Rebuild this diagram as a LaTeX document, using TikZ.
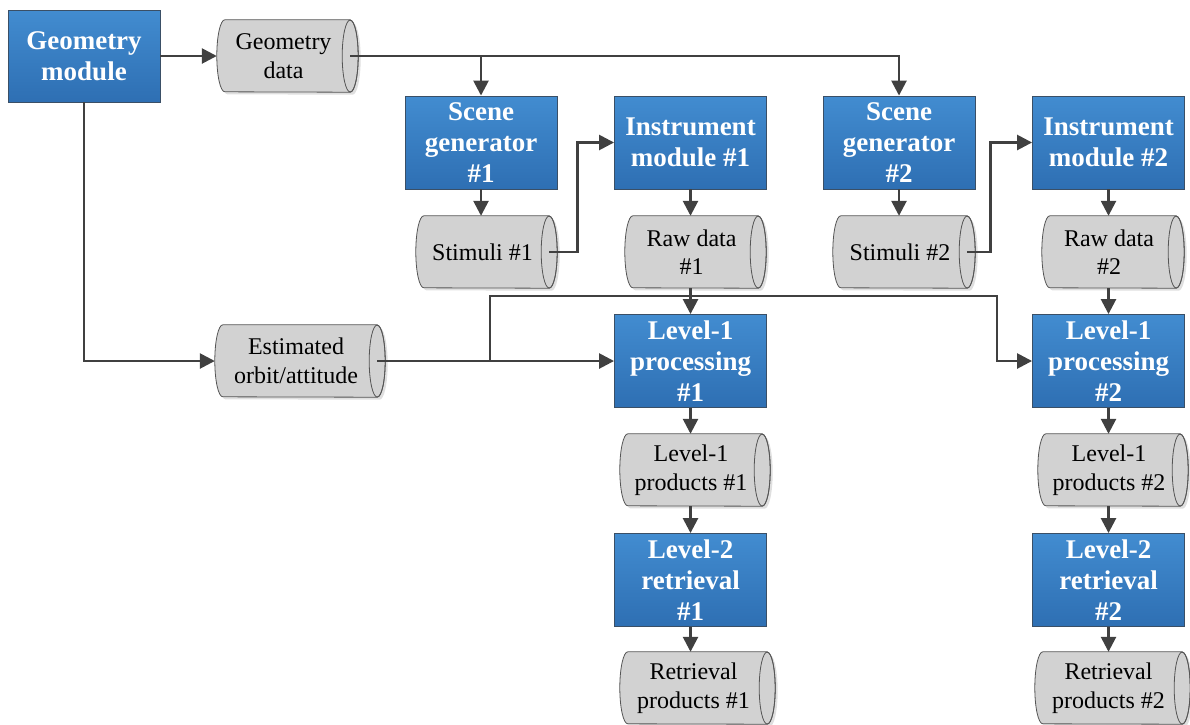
\documentclass[tikz,border=0pt]{standalone}
\usepackage{fontspec}
\setmainfont{Liberation Serif}
\usetikzlibrary{arrows.meta,calc,shadows}

\definecolor{boxtop}{HTML}{428CD0}
\definecolor{boxbottom}{HTML}{2E6FB3}
\definecolor{boxedge}{HTML}{3A4F66}
\definecolor{drumfill}{HTML}{D2D2D2}
\definecolor{drumline}{HTML}{555555}
\definecolor{linkcol}{HTML}{404040}

\pgfdeclarelayer{background}
\pgfsetlayers{background,main}

\tikzset{
  module/.style={rectangle, draw=boxedge, line width=0.9pt,
    top color=boxtop, bottom color=boxbottom,
    minimum width=152pt, minimum height=93pt, inner sep=0pt,
    text=white, align=center,
    font=\fontsize{27}{31}\selectfont\bfseries},
  drumtext/.style={rectangle, draw=none, minimum height=72pt, inner sep=0pt,
    align=center, font=\fontsize{24}{28.5}\selectfont},
  drumbody/.style={fill=drumfill, draw=drumline, line width=0.8pt,
    drop shadow={shadow xshift=2.5pt, shadow yshift=-2.5pt, opacity=0.25}},
  drumedge/.style={draw=drumline, line width=0.8pt},
  link/.style={draw=linkcol, line width=2.6pt,
    -{Triangle[length=15pt,width=15pt]}}
}

% data store drawn as a horizontal cylinder: name, x, y, width, text
% (the node spans from the left bulge to the centre of the end ellipse)
\newcommand\drum[5]{%
  \node[drumtext, minimum width=#4-8pt] (#1) at ($(#2,#3)+(-4pt,0)$) {#5};
  \coordinate (#1-out) at (#1.east);
  \begin{pgfonlayer}{background}
    \path[drumbody] (#1.north east) -- ($(#1.north west)+(8pt,0)$)
      arc[start angle=90, end angle=270, x radius=8pt, y radius=36pt]
      -- (#1.south east)
      arc[start angle=-90, end angle=90, x radius=8pt, y radius=36pt] -- cycle;
    \draw[drumedge] (#1.east) ellipse[x radius=8pt, y radius=36pt];
  \end{pgfonlayer}
}

\begin{document}
\begin{tikzpicture}[x=1pt, y=-1pt]
\useasboundingbox (0,0) rectangle (1190,724);

% processing modules
\node[module, minimum height=92pt] (geo) at (84,56) {Geometry\\module};
\node[module] (sg1)  at (481,142.5)   {Scene\\generator\\\#1};
\node[module] (im1)  at (690.5,142.5) {Instrument\\module \#1};
\node[module] (sg2)  at (899,142.5)   {Scene\\generator\\\#2};
\node[module] (im2)  at (1108.5,142.5){Instrument\\module \#2};
\node[module] (l1p1) at (690.5,361)   {Level-1\\processing\\\#1};
\node[module] (l1p2) at (1108.5,361)  {Level-1\\processing\\\#2};
\node[module] (l2r1) at (690.5,580)   {Level-2\\retrieval\\\#1};
\node[module] (l2r2) at (1108.5,580)  {Level-2\\retrieval\\\#2};

% data stores
\drum{gd}{287.5}{56}{141pt}{Geometry\\data}
\drum{st1}{486.5}{252}{141pt}{Stimuli \#1}
\drum{rd1}{695.5}{252}{141pt}{Raw data\\\#1}
\drum{st2}{904}{252}{142pt}{Stimuli \#2}
\drum{rd2}{1113}{252}{142pt}{Raw data\\\#2}
\drum{eo}{300}{361}{170pt}{Estimated\\orbit/attitude}
\drum{lp1}{695}{470}{150pt}{Level-1\\products \#1}
\drum{lp2}{1113}{470}{150pt}{Level-1\\products \#2}
\drum{rp1}{697.5}{688}{155pt}{Retrieval\\products \#1}
\drum{rp2}{1112.5}{688}{155pt}{Retrieval\\products \#2}

% junctions of the orbit/attitude feed
\coordinate (split) at (490,361);
\coordinate (bus) at (997,296);

% geometry chain
\draw[link] (geo.east) -- (gd.west);
\draw[link] (gd-out) -| (sg2.north);
\draw[link] (sg1.north |- gd-out) -- (sg1.north);
\draw[link] (geo.south) |- (eo.west);

% branch 1
\draw[link] (sg1.south) -- (sg1.south |- st1.north);
\draw[link] (st1-out) -- ++(28pt,0) |- (im1.west);
\draw[link] (im1.south) -- (im1.south |- rd1.north);
\draw[link] (l1p1.north |- rd1.south) -- (l1p1.north);
\draw[link] (eo-out) -- (l1p1.west);
\draw[link] (split) |- (bus) |- (l1p2.west);
\draw[link] (l1p1.south) -- (l1p1.south |- lp1.north);
\draw[link] (l2r1.north |- lp1.south) -- (l2r1.north);
\draw[link] (l2r1.south) -- (l2r1.south |- rp1.north);

% branch 2
\draw[link] (sg2.south) -- (sg2.south |- st2.north);
\draw[link] (st2-out) -- ++(23pt,0) |- (im2.west);
\draw[link] (im2.south) -- (im2.south |- rd2.north);
\draw[link] (l1p2.north |- rd2.south) -- (l1p2.north);
\draw[link] (l1p2.south) -- (l1p2.south |- lp2.north);
\draw[link] (l2r2.north |- lp2.south) -- (l2r2.north);
\draw[link] (l2r2.south) -- (l2r2.south |- rp2.north);
\end{tikzpicture}
\end{document}
